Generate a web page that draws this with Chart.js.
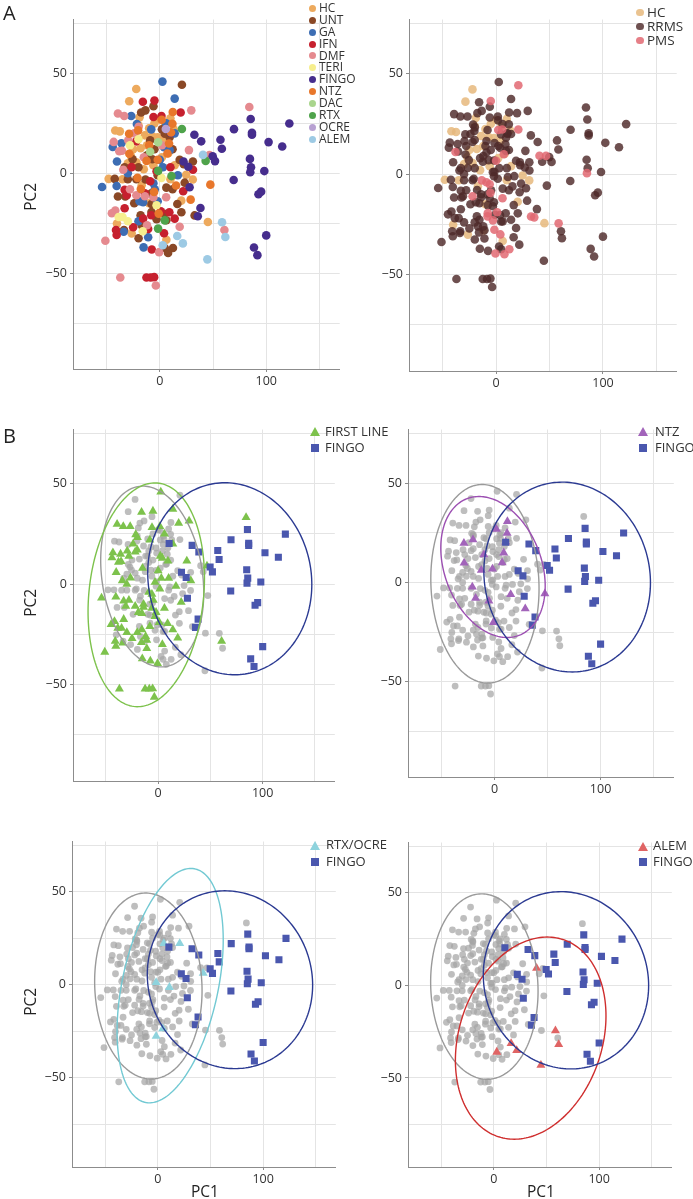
<!DOCTYPE html>
<html><head><meta charset="utf-8">
<script src="https://cdn.jsdelivr.net/npm/chart.js@4/dist/chart.umd.min.js"></script>
<style>
html,body{margin:0;padding:0;background:#fff;}
body{width:693px;height:1199px;position:relative;overflow:hidden;font-family:"Open Sans",sans-serif;color:#222;}
canvas{position:absolute;}
.t{position:absolute;white-space:nowrap;}
.m{position:absolute;}
</style></head><body>
<script>
// ---------------- DATA (PC1, PC2[, PMS flag]) ----------------
const HC = [[-22.1,42.2],[-28.7,36.1],[-41.8,21.4],[-37.5,21.0],[-48,-2.8],[-40.2,-25.2],[45.2,-24.4],[20.2,-13.7],[-20,24],[-14,19],[-10,22.5],[-5,25],[0,27],[5,24],[10,27.5],[13,22],[-25,12],[-18,12.5],[-12,14],[-7,18.5],[-2,18],[4,16.5],[8,10],[2,8],[-30,5],[-22,5.5],[-15,2],[-6,4],[14,4],[24.8,-0.7],[31,-3.1],[-19,28],[-27,8.5],[-35,-3],[-10,-15],[6.2,-33.3],[-26.4,-30.1],[-12,-28],[10,-3],[-17,-6]];
const UNT = [[20.8,44.3,1],[-5.9,33.6,0],[-17.5,30.4,0],[-13.5,31.5,0],[-9,16.5,0],[9.3,18.1,0],[4.7,19.8,0],[-12,9,0],[-7,7,0],[-25.5,7,0],[-20,3,0],[18.7,6.7,0],[22.5,4.5,0],[31.1,5.9,0],[-42.3,-2.8,0],[-30,-3,0],[-22,-3,0],[-13.4,-3.1,1],[6.2,-7.2,0],[23.4,-4.7,0],[-39.3,-11.6,0],[-32.4,-11.6,0],[-8,-10,0],[16.5,-15.4,0],[-7.8,-15.4,0],[-24,-15,0],[-7.8,-19.4,1],[3.7,-20.3,0],[20.3,-19.5,0],[32.7,-21.1,1],[-18,-21,0],[-3,-23,1],[6.2,-23.5,0],[-33.6,-28.4,0],[-17,-26,0],[-19.9,-32.5,0],[4.7,-37.4,0],[12.4,-37.4,1],[7.8,-39.9,1],[-5,12,0],[-2,-1,0],[12,-8,0],[-33,3,0],[2,22,1],[12,12,0]];
const GA = [[2.5,45.9,0],[14,37.4,0],[-26.8,28.7,0],[-21.5,24.7,0],[-44.2,13.2,0],[-40.2,5.9,0],[9.3,11.6,0],[0,6.7,1],[-54.2,-6.9,0],[-40.5,-6.4,0],[-4.7,-8,0],[-19,-14,0],[-15.6,-14.5,0],[-33.9,-29.3,0],[-10.9,-32,0],[-15.2,-37.1,0],[4,13,0],[-8,22,0],[-30,0,0],[-6,-5,1],[3,3,0],[17,-1,0],[6,25,0],[-20,-24,0],[-36,15,0],[14,20,0],[-2,-14,0]];
const IFN = [[-15.9,35.8,0],[-5,36.4,1],[19.6,30.4,0],[-5.9,28.2,0],[1.6,28.7,0],[-26.5,3.1,0],[31.2,1.8,0],[-33,-8.3,0],[-31,-11,0],[-33,-17.5,0],[-15.6,-22.7,0],[-8,-21,1],[1,-19,1],[9,-19.5,0],[14,-22.7,0],[-25,-27,0],[-40.5,-30.9,0],[-41.1,-28.4,0],[-10.9,-27.9,0],[4,-30,1],[-7.5,-38.2,0],[-12.5,-52.2,0],[-8.5,-52.2,0],[-5.3,-52,0],[-3,1,0],[10,3,0],[-14,-10,0],[-22,16,0],[22,-9,0],[-9,-4,1]];
const DMF = [[-39.3,29.9,0],[-33.4,28.7,0],[-19.9,23.3,0],[29.6,31.5,0],[84.1,33.2,0],[-43.3,15.7,0],[-38,11,1],[-35.5,11.3,0],[-29.6,16.5,0],[27.4,11.6,0],[46.7,9.1,1],[-34.3,1.8,0],[-41.8,-18.6,0],[-22,-11,1],[-14,-11.5,0],[-6,-12,0],[18.7,-26.8,0],[60.7,-28.4,0],[-51.1,-33.8,0],[-0.6,-39.5,1],[-37.1,-52.2,0],[-3.7,-56.2,0],[-28,-8,0],[-12,-26,0],[-15,8,0],[6,-12,1],[-24,20,0],[2,14,0],[-45,-20,0]];
const TERI = [[1.6,-2.3,0],[-38.6,-21.9,0],[-35,-21.9,0],[-30,-24,0],[-20,17,0],[-28,14,0],[-16,-29,0],[-3,-16,0]];
const FINGO = [[10.5,20.2,0],[32.5,19.3,0],[38.9,16,0],[57,16.8,0],[58.3,12.3,0],[69.7,22.1,0],[49.7,8.5,0],[51.9,6.1,0],[22.3,5.9,0],[26.8,3.3,0],[28,-7,0],[85.4,27.2,0],[86.6,19.3,0],[86.6,20.3,0],[102.2,15.6,0],[115,13.4,0],[121.7,24.9,0],[84.7,7.2,0],[85.7,3,0],[85,0.5,1],[98.2,1.1,0],[69.4,-3.4,0],[92.7,-10.5,0],[95.2,-9.2,0],[100,-31.1,0],[88.5,-37.2,0],[91.7,-41,0],[38.2,-17.4,0],[35.7,-21.5,1]];
const NTZ = [[-28.8,19.8,0],[-20.3,21.5,0],[-28.6,9.8,0],[1.8,26.8,0],[12.2,30.7,0],[11.9,24.8,0],[10.6,20.4,0],[-10,14,0],[8.7,14.9,0],[7.2,9.9,1],[-12.4,6.2,0],[-1.9,6.8,0],[-20.9,-2.3,0],[-17.8,-7.9,0],[-5.3,-9.3,1],[15.3,-6.1,0],[-1,-20.2,0],[29,-13.2,0],[47.5,-5.7,0]];
const DAC = [[-9,10.8,0],[-1.5,15.5,0]];
const RTX = [[20.8,22.2,1],[43.1,6.2,0],[11,-1.4,0],[4.7,-23.6,0],[-1.6,1.2,0],[-1.6,-27.7,1]];
const OCRE = [[5.7,22.2,1]];
const ALEM = [[2.8,-36,0],[16.4,-31.4,0],[21.7,-35.1,0],[44.7,-43.1,0],[40.6,9.2,1],[58.5,-24.5,1],[61.6,-31.9,0]];

// group names and colours (panel A, left)
const GROUP_NAMES = ['HC','UNT','GA','IFN','DMF','TERI','FINGO','NTZ','DAC','RTX','OCRE','ALEM'];
const GROUP_DATA  = [HC, UNT, GA, IFN, DMF, TERI, FINGO, NTZ, DAC, RTX, OCRE, ALEM];
const GROUP_COLORS= ['#EDAA5E','#8A4826','#3D6DB3','#C6202E','#E58A8F','#F6EE8E','#462D8D','#E8772B','#A9D58D','#4FA34B','#B8A1D2','#9DCAE4'];
// panel A, right
const CLASS_NAMES = ['HC','RRMS','PMS'];
const CLASS_COLORS = ['rgba(230,185,125,0.85)','rgba(78,42,42,0.82)','rgba(226,104,114,0.85)'];

// ellipse parameters: [centre PC1, centre PC2, half-range PC1, half-range PC2, correlation]
const ELL_FINGO = [68.5, 2.7, 78.5, 47.8, -0.06];
const ELL_FIRST = [-11.4, -5.3, 55.7, 55.7, 0.15];
const ELL_GRAY_FIRST = [-5.7, 3.8, 49.3, 45, -0.18];
const ELL_GRAY = [-9, -0.7, 51, 50, -0.05];
const ELL_NTZ = [-1.4, 7.75, 49.2, 35.5, -0.27];
const ELL_RTX = [11.7, -0.5, 50.4, 63, 0.39];
const ELL_ALEM = [35, -28.5, 71.5, 54.5, 0.22];

// axes
const X_MIN = -81.5, X_MAX = 169, Y_MIN = -98, Y_MAX = 77;
const X_TICKS = [-50, 0, 50, 100, 150];
const X_LABELS = [0, 100];
const Y_TICKS = [-75, -50, -25, 0, 25, 50, 75];
const Y_LABELS = [-50, 0, 50];

// ---------------- helpers ----------------
const FONT = '"Open Sans", sans-serif';
const toXY = arr => arr.map(p => ({x:p[0], y:p[1]}));
const FIRST_LINE = [].concat(GA, IFN, DMF, TERI);
const TREATED = [].concat(UNT, GA, IFN, DMF, TERI, FINGO, NTZ, DAC, RTX, OCRE, ALEM);

function ellipsePlugin(list){
  return {id:'ell', afterDatasetsDraw(chart){
    const ctx = chart.ctx, xs = chart.scales.x, ys = chart.scales.y, a = chart.chartArea;
    ctx.save(); ctx.beginPath(); ctx.rect(a.left, a.top, a.right-a.left, a.bottom-a.top); ctx.clip();
    list.forEach(e => {
      const [cx,cy,rx,ry,rho] = e.p, phi = Math.acos(rho);
      ctx.beginPath();
      for (let i=0;i<=200;i++){
        const t = i/200*2*Math.PI;
        const px = xs.getPixelForValue(cx + rx*Math.cos(t));
        const py = ys.getPixelForValue(cy + ry*Math.cos(t-phi));
        if (i) ctx.lineTo(px,py); else ctx.moveTo(px,py);
      }
      ctx.strokeStyle = e.c; ctx.lineWidth = 1.4; ctx.stroke();
    });
    ctx.restore();
  }};
}

function axis(min, max, ticks, labels, fit){
  return {type:'linear', min, max,
    afterFit: fit,
    afterBuildTicks(s){ s.ticks = ticks.map(v => ({value:v})); },
    border:{color:'#8c8c8c', width:1},
    grid:{color:'#e4e4e4', lineWidth:1, tickLength:3,
          tickColor:ctx => (ctx.tick && labels.indexOf(ctx.tick.value)>=0) ? '#8c8c8c' : 'rgba(0,0,0,0)'},
    ticks:{autoSkip:false, maxRotation:0, minRotation:0, padding:2,
           font:{family:FONT, size:12.5}, color:'#333',
           callback:v => labels.indexOf(v)>=0 ? String(v).replace('-','\u2212') : ''}};
}

function panel(rect, datasets, ellipses){
  const PL=70, PT=6, PR=4, PB=26;
  const W = rect.r-rect.l+PL+PR, H = rect.b-rect.t+PT+PB;
  const c = document.createElement('canvas');
  c.width=W; c.height=H; c.style.width=W+'px'; c.style.height=H+'px';
  c.style.left=(rect.l-PL)+'px'; c.style.top=(rect.t-PT)+'px';
  document.body.appendChild(c);
  const xAx = axis(X_MIN, X_MAX, X_TICKS, X_LABELS, s => { s.height = PB; });
  const yAx = axis(Y_MIN, Y_MAX, Y_TICKS, Y_LABELS, s => { s.width = PL; });
  yAx.ticks.padding = 3;
  new Chart(c, {
    type:'scatter',
    data:{datasets},
    options:{
      responsive:false, animation:false, devicePixelRatio:1,
      layout:{padding:{left:0, top:PT, right:PR, bottom:0}},
      plugins:{legend:{display:false}, tooltip:{enabled:false}},
      scales:{x:xAx, y:yAx}
    },
    plugins:[ellipsePlugin(ellipses)]
  });
}

function text(str, x, yc, fs, extra){
  const d = document.createElement('div');
  d.className='t'; d.textContent=str;
  d.style.left=x+'px'; d.style.top=(yc-0.531*fs)+'px';
  d.style.fontSize=fs+'px'; d.style.lineHeight=fs+'px';
  if (extra) Object.assign(d.style, extra);
  document.body.appendChild(d); return d;
}
function marker(shape, color, cx, cy, s){
  const d = document.createElement('div'); d.className='m';
  if (shape==='circle'){ Object.assign(d.style,{width:s+'px',height:s+'px',borderRadius:'50%',background:color,left:(cx-s/2)+'px',top:(cy-s/2)+'px'}); }
  else if (shape==='square'){ Object.assign(d.style,{width:s+'px',height:s+'px',background:color,left:(cx-s/2)+'px',top:(cy-s/2)+'px'}); }
  else { const h=s*0.9; Object.assign(d.style,{width:0,height:0,borderLeft:(s/2)+'px solid transparent',borderRight:(s/2)+'px solid transparent',borderBottom:h+'px solid '+color,left:(cx-s/2)+'px',top:(cy-h/2)+'px'}); }
  document.body.appendChild(d);
}

// ---------------- Panel A left ----------------
panel({l:73,t:15,r:340,b:369},
  GROUP_DATA.map((g,i) => ({label:GROUP_NAMES[i], data:toXY(g), backgroundColor:GROUP_COLORS[i],
    pointStyle:'circle', pointRadius:4.3, borderWidth:0, order: (i===0?20: 12-i)})), []);
// ---------------- Panel A right ----------------
panel({l:409,t:15,r:677,b:371}, [
  {label:'HC', data:toXY(HC), backgroundColor:CLASS_COLORS[0], pointRadius:4.3, borderWidth:0, order:3},
  {label:'RRMS', data:toXY(TREATED.filter(p=>!p[2])), backgroundColor:CLASS_COLORS[1], pointRadius:4.3, borderWidth:0, order:2},
  {label:'PMS', data:toXY(TREATED.filter(p=>p[2])), backgroundColor:CLASS_COLORS[2], pointRadius:4.3, borderWidth:0, order:1}
], []);

const GRAY = 'rgba(165,165,165,0.72)', BLUE_SQ = '#4A57AE';
function bPanel(rect, hl, hlColor, grayPts, ells){
  panel(rect, [
    {label:'other', data:toXY(grayPts), backgroundColor:GRAY, pointRadius:3.4, borderWidth:0, order:3},
    {label:'group', data:toXY(hl), backgroundColor:hlColor, pointStyle:'triangle', pointRadius:5.2, borderWidth:0, order:2},
    {label:'FINGO', data:toXY(FINGO), backgroundColor:BLUE_SQ, pointStyle:'rect', pointRadius:5, borderWidth:0, order:1}
  ], ells);
}
const notIn = (...groups) => [].concat(...GROUP_DATA.filter(g => groups.indexOf(g)<0));

bPanel({l:73,t:425,r:336,b:781}, FIRST_LINE, '#7DC24C', notIn(GA,IFN,DMF,TERI,FINGO),
  [{p:ELL_GRAY_FIRST,c:'#9a9a9a'},{p:ELL_FIRST,c:'#7DC24C'},{p:ELL_FINGO,c:'#2B3A92'}]);
bPanel({l:408,t:425,r:675,b:777}, NTZ, '#A264BA', notIn(NTZ,FINGO),
  [{p:ELL_GRAY,c:'#9a9a9a'},{p:ELL_NTZ,c:'#9C4FB2'},{p:ELL_FINGO,c:'#2B3A92'}]);
bPanel({l:72,t:837,r:337,b:1167}, [].concat(RTX,OCRE), '#8ED3DD', notIn(RTX,OCRE,FINGO),
  [{p:ELL_GRAY,c:'#9a9a9a'},{p:ELL_RTX,c:'#72C9D3'},{p:ELL_FINGO,c:'#2B3A92'}]);
bPanel({l:408,t:838,r:673,b:1167}, ALEM, '#E06464', notIn(ALEM,FINGO),
  [{p:ELL_GRAY,c:'#9a9a9a'},{p:ELL_ALEM,c:'#CF2E2E'},{p:ELL_FINGO,c:'#2B3A92'}]);

// ---------------- texts ----------------
text('A', 3, 13.5, 20);
text('B', 3, 436.5, 20);
[197, 603, 1002].forEach(yc => {
  text('PC2', 1, yc, 15.5, {width:'60px', textAlign:'center', transform:'rotate(-90deg)'});
});
text('PC1', 165, 1192, 15.5, {width:'80px', textAlign:'center'});
text('PC1', 501, 1192, 15.5, {width:'80px', textAlign:'center'});

// legends
GROUP_NAMES.forEach((n,i) => { const y = 8.3 + i*11.9; marker('circle', GROUP_COLORS[i], 312.5, y, 7); text(n, 319, y, 12, {color:'#333'}); });
CLASS_NAMES.forEach((n,i) => { const y = 12.7 + i*14; marker('circle', CLASS_COLORS[i], 640, y, 7.5); text(n, 647, y, 13.5, {color:'#333'}); });
function bLegend(name, col, mx, tx, y1, y2){
  marker('triangle', col, mx, y1, 10); text(name, tx, y1, 13, {color:'#333'});
  marker('square', BLUE_SQ, mx, y2, 8); text('FINGO', tx, y2, 13, {color:'#333'});
}
bLegend('FIRST LINE', '#7DC24C', 315, 325, 431.7, 448.3);
bLegend('NTZ', '#A264BA', 643.3, 655, 431.7, 448.3);
bLegend('RTX/OCRE', '#8ED3DD', 315, 326, 845, 861.7);
bLegend('ALEM', '#E06464', 643.3, 653, 846, 861.7);
</script>
</body></html>
